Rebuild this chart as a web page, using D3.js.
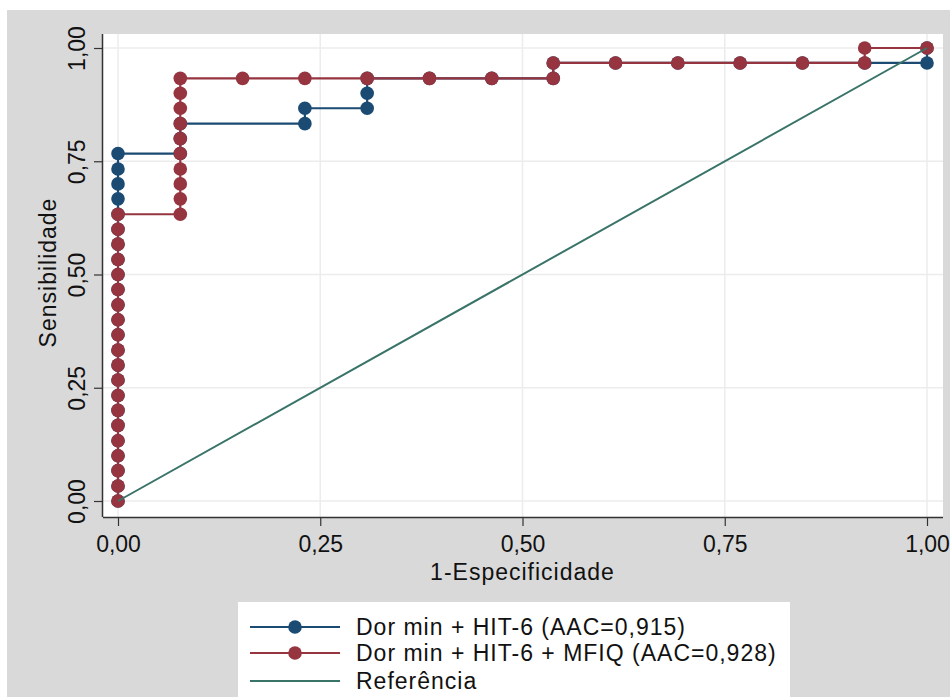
<!DOCTYPE html>
<html>
<head>
<meta charset="utf-8">
<script src="https://cdn.jsdelivr.net/npm/d3@7"></script>
<style>
  body { margin: 0; background: #fff; }
  text { font-family: "Liberation Sans", Arial, sans-serif; fill: #111; }
</style>
</head>
<body>
<div id="roc"></div>
<script>
// ROC data (1-specificity, sensitivity)
var blueX = [0,0,0,0,0,0,0,0,0,0,0,0,0,0,0,0,0,0,0,0,0,0,0,0,
             0.077,0.077,0.077,0.231,0.231,0.308,0.308,0.308,
             0.385,0.462,0.538,0.538,0.615,0.692,0.769,0.846,0.923,1,1];
var blueY = [0,0.033,0.067,0.1,0.133,0.167,0.2,0.233,0.267,0.3,0.333,0.367,
             0.4,0.433,0.467,0.5,0.533,0.567,0.6,0.633,0.667,0.7,0.733,0.767,
             0.767,0.8,0.833,0.833,0.867,0.867,0.9,0.933,
             0.933,0.933,0.933,0.967,0.967,0.967,0.967,0.967,0.967,0.967,1];

var redX = [0,0,0,0,0,0,0,0,0,0,0,0,0,0,0,0,0,0,0,0,
            0.077,0.077,0.077,0.077,0.077,0.077,0.077,0.077,0.077,0.077,
            0.154,0.231,0.308,0.385,0.462,0.538,0.538,
            0.615,0.692,0.769,0.846,0.923,0.923,1];
var redY = [0,0.033,0.067,0.1,0.133,0.167,0.2,0.233,0.267,0.3,0.333,0.367,
            0.4,0.433,0.467,0.5,0.533,0.567,0.6,0.633,
            0.633,0.667,0.7,0.733,0.767,0.8,0.833,0.867,0.9,0.933,
            0.933,0.933,0.933,0.933,0.933,0.933,0.967,
            0.967,0.967,0.967,0.967,0.967,1,1];

var refX = [0, 1];
var refY = [0, 1];

var tickValues = [0, 0.25, 0.5, 0.75, 1];
var tickLabels = ["0,00", "0,25", "0,50", "0,75", "1,00"];

var legendLabels = ["Dor min + HIT-6 (AAC=0,915)",
                    "Dor min + HIT-6 + MFIQ (AAC=0,928)",
                    "Referência"];

var blue = "#1b4a72", red = "#963440", refColor = "#3a7468";
var FS = 23;

var W = 950, H = 697;
var svg = d3.select("#roc").append("svg")
    .attr("width", W)
    .attr("height", H);

// gray graph region and white plot region
svg.append("rect").attr("x", 7).attr("y", 10).attr("width", W - 7).attr("height", H - 10)
    .attr("fill", "#d9d9d9");
svg.append("rect").attr("x", 103).attr("y", 34).attr("width", 840).attr("height", 483)
    .attr("fill", "#fff");

var x = d3.scaleLinear().domain([0, 1]).range([118, 927]);
var y = d3.scaleLinear().domain([0, 1]).range([501, 48]);

// grid
svg.append("g").selectAll("line.v")
  .data(tickValues).enter().append("line")
    .attr("x1", function(d) { return x(d); })
    .attr("x2", function(d) { return x(d); })
    .attr("y1", 34).attr("y2", 517)
    .attr("stroke", "#ececec").attr("stroke-width", 1.5);
svg.append("g").selectAll("line.h")
  .data(tickValues).enter().append("line")
    .attr("y1", function(d) { return y(d); })
    .attr("y2", function(d) { return y(d); })
    .attr("x1", 103).attr("x2", 943)
    .attr("stroke", "#ececec").attr("stroke-width", 1.5);

// axes
var fmt = function(d, i) { return tickLabels[i]; };
var xAxis = svg.append("g")
    .attr("transform", "translate(0,517)")
    .call(d3.axisBottom(x).tickValues(tickValues).tickFormat(fmt).tickSize(9).tickPadding(10).tickSizeOuter(0));
xAxis.select(".domain").attr("d", "M103,0.5H943").attr("stroke", "#333").attr("stroke-width", 1.5);
xAxis.selectAll(".tick line").attr("stroke", "#333").attr("stroke-width", 1.2);
xAxis.selectAll("text").attr("font-size", FS).attr("fill", "#111")
    .style("font-family", "'Liberation Sans', Arial, sans-serif");

var yAxis = svg.append("g")
    .attr("transform", "translate(103,0)")
    .call(d3.axisLeft(y).tickValues(tickValues).tickFormat(fmt).tickSize(9).tickPadding(6).tickSizeOuter(0));
yAxis.select(".domain").attr("d", "M-0.5,34V517").attr("stroke", "#333").attr("stroke-width", 1.5);
yAxis.selectAll(".tick line").attr("stroke", "#333").attr("stroke-width", 1.2);
yAxis.selectAll("text")
    .attr("x", null).attr("dy", null)
    .attr("transform", "translate(-18,0) rotate(-90)")
    .attr("text-anchor", "middle")
    .attr("font-size", FS).attr("fill", "#111")
    .style("font-family", "'Liberation Sans', Arial, sans-serif");

// axis titles
svg.append("text").attr("x", x(0.5)).attr("y", 580)
    .attr("text-anchor", "middle").attr("font-size", FS).style("letter-spacing", "1px")
    .text("1-Especificidade");
svg.append("text").attr("transform", "translate(56," + (y(0.5) - 2) + ") rotate(-90)")
    .attr("text-anchor", "middle").attr("font-size", FS).style("letter-spacing", "1px")
    .text("Sensibilidade");

// curves
function drawCurve(xs, ys, color) {
  var pts = xs.map(function(d, i) { return [d, ys[i]]; });
  svg.append("path").datum(pts)
    .attr("d", d3.line().x(function(d) { return x(d[0]); }).y(function(d) { return y(d[1]); }))
    .attr("fill", "none").attr("stroke", color).attr("stroke-width", 2.2);
  svg.append("g").selectAll("circle").data(pts).enter().append("circle")
    .attr("cx", function(d) { return x(d[0]); })
    .attr("cy", function(d) { return y(d[1]); })
    .attr("r", 6.8)
    .attr("fill", color);
}
drawCurve(blueX, blueY, blue);
drawCurve(redX, redY, red);

svg.append("path").datum(refX.map(function(d, i) { return [d, refY[i]]; }))
  .attr("d", d3.line().x(function(d) { return x(d[0]); }).y(function(d) { return y(d[1]); }))
  .attr("fill", "none").attr("stroke", refColor).attr("stroke-width", 2);

// legend
var lg = svg.append("g");
lg.append("rect").attr("x", 238).attr("y", 602).attr("width", 552).attr("height", 100).attr("fill", "#fff");
var legendColors = [blue, red, refColor];
var rowY = [627, 653, 681];
legendLabels.forEach(function(lab, i) {
  lg.append("line").attr("x1", 250).attr("x2", 340).attr("y1", rowY[i]).attr("y2", rowY[i])
    .attr("stroke", legendColors[i]).attr("stroke-width", 2);
  if (i < 2) lg.append("circle").attr("cx", 295).attr("cy", rowY[i]).attr("r", 6.8).attr("fill", legendColors[i]);
  lg.append("text").attr("x", 356).attr("y", rowY[i] + 8).attr("font-size", FS)
    .style("letter-spacing", "1px").text(lab);
});
</script>
</body>
</html>
